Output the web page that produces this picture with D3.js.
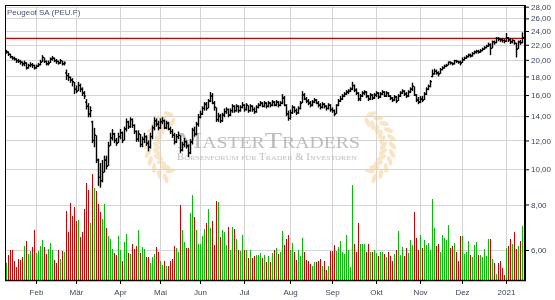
<!DOCTYPE html>
<html>
<head>
<meta charset="utf-8">
<script src="https://cdn.jsdelivr.net/npm/d3@7"></script>
<style>
  html, body { margin: 0; padding: 0; background: #fff; }
  svg { display: block; font-family: "Liberation Sans", Arial, sans-serif; }
</style>
</head>
<body>
<svg id="chart"></svg>
<script>
// Chart data
const title = "Peugeot SA (PEU.F)";
const monthLabels = ["", "Feb", "Mär", "Apr", "Mai", "Jun", "Jul", "Aug", "Sep", "Okt", "Nov", "Dez", "2021"];
const barsPerMonth = [15, 20, 22, 20, 20, 22, 23, 21, 22, 22, 21, 22, 9];
const priceTicks = [6, 8, 10, 12, 14, 16, 18, 20, 22, 24, 26, 28];
const resistance = 22.9;

const close = [
  21.0, 20.7, 20.4, 20.2, 20.1, 19.9, 19.8, 19.7, 19.5, 19.6, 19.0, 19.3, 19.4, 19.3, 19.0,
  19.2, 19.4, 19.7, 20.3, 19.8, 19.5, 19.6, 20.1, 20.2, 19.9, 19.8, 19.6, 19.9, 19.5, 19.6, 18.1, 17.9, 17.6, 17.4, 16.6,
  16.4, 17.0, 16.6, 16.2, 15.9, 14.9, 14.2, 14.5, 12.0, 12.4, 10.6, 9.5, 9.3, 9.8, 10.6, 10.2, 11.6, 12.2, 12.5, 12.0, 11.8, 12.3,
  12.6, 12.0, 12.9, 13.5, 13.1, 13.7, 13.2, 12.7, 12.1, 12.5, 11.7, 12.1, 12.3, 11.8, 11.5, 12.3, 13.0, 13.6, 13.3, 13.0,
  13.5, 13.6, 13.0, 13.4, 12.9, 12.7, 12.4, 11.9, 12.3, 12.4, 11.3, 11.7, 11.9, 11.6, 11.1, 11.9, 12.8, 12.5, 13.3, 13.9,
  14.2, 14.7, 15.1, 14.7, 15.4, 15.9, 15.2, 14.8, 13.7, 14.0, 13.6, 14.1, 14.4, 14.6, 14.1, 14.5, 14.9, 14.5, 14.9, 14.5, 14.8, 15.0,
  14.6, 15.0, 14.5, 14.9, 14.6, 14.4, 14.8, 15.0, 15.2, 14.9, 15.2, 14.9, 15.2, 15.0, 15.3, 15.0, 15.3, 15.0, 15.2, 15.7, 15.0, 14.2, 13.8,
  14.3, 14.8, 14.5, 14.3, 14.7, 15.2, 16.0, 15.6, 15.4, 15.2, 15.0, 15.3, 15.5, 15.2, 15.0, 14.8, 15.1, 14.9, 14.7, 15.0, 14.6,
  14.5, 14.2, 15.0, 15.4, 15.6, 15.9, 16.1, 16.3, 16.4, 16.6, 17.0, 16.5, 16.2, 15.6, 15.9, 16.2, 16.3, 15.9, 15.6, 16.0, 15.7, 16.0,
  16.2, 15.8, 16.1, 16.3, 15.9, 16.2, 15.9, 15.7, 15.5, 15.8, 15.4, 15.9, 16.2, 16.4, 16.1, 15.9, 16.3, 16.6, 16.9, 16.0, 15.5, 15.3,
  15.6, 15.5, 16.1, 16.6, 16.9, 17.4, 18.3, 18.6, 18.4, 18.3, 18.8, 19.0, 19.2, 19.3, 19.7, 19.6, 19.5, 19.9, 19.8, 19.7, 19.6,
  20.0, 20.2, 20.4, 20.6, 20.5, 20.8, 21.0, 21.1, 21.0, 21.2, 21.4, 21.6, 21.8, 22.0, 21.5, 22.4, 22.3, 22.9, 22.8, 22.7, 22.6, 22.5,
  23.0, 22.7, 22.4, 22.6, 22.2, 21.4, 22.4, 22.3, 23.0
];

const high = [
  21.3, 21.1, 20.8, 20.5, 20.4, 20.2, 20.1, 20.0, 19.8, 19.9, 19.7, 19.5, 19.7, 19.6, 19.4,
  19.4, 19.6, 20.0, 20.6, 20.3, 19.9, 19.9, 20.3, 20.5, 20.3, 20.1, 19.9, 20.1, 19.9, 19.8, 18.8, 18.4, 18.0, 17.8, 17.3,
  17.0, 17.4, 17.2, 16.8, 16.4, 15.6, 15.2, 14.9, 13.6, 13.0, 12.3, 10.7, 10.4, 10.6, 10.9, 10.9, 11.9, 12.6, 12.9, 12.6, 12.2, 12.6,
  12.9, 12.7, 13.1, 13.8, 13.6, 13.9, 13.8, 13.3, 12.8, 12.8, 12.5, 12.3, 12.6, 12.4, 12.0, 12.6, 13.2, 13.9, 13.8, 13.6,
  13.8, 13.9, 13.7, 13.6, 13.5, 13.1, 12.9, 12.6, 12.5, 12.7, 12.4, 11.9, 12.2, 12.0, 11.7, 12.1, 13.0, 13.1, 13.5, 14.2,
  14.5, 14.9, 15.3, 15.3, 15.6, 16.3, 16.2, 15.4, 14.7, 14.3, 14.2, 14.3, 14.7, 14.8, 14.7, 14.7, 15.1, 15.0, 15.1, 15.0, 15.0, 15.3,
  15.1, 15.2, 15.0, 15.1, 15.0, 14.8, 15.0, 15.2, 15.4, 15.3, 15.4, 15.3, 15.4, 15.3, 15.5, 15.4, 15.5, 15.4, 15.4, 16.1, 15.9, 15.1, 14.5,
  14.6, 15.0, 14.9, 14.7, 14.9, 15.4, 16.4, 16.2, 15.8, 15.6, 15.4, 15.5, 15.7, 15.6, 15.4, 15.2, 15.3, 15.2, 15.0, 15.2, 15.1,
  14.8, 14.6, 15.1, 15.6, 15.9, 16.1, 16.3, 16.5, 16.6, 16.8, 17.4, 17.1, 16.7, 16.3, 16.1, 16.4, 16.5, 16.4, 16.0, 16.2, 16.1, 16.2,
  16.4, 16.3, 16.3, 16.5, 16.4, 16.4, 16.3, 16.0, 15.8, 16.0, 15.9, 16.1, 16.4, 16.6, 16.5, 16.3, 16.5, 16.8, 17.3, 16.8, 16.1, 15.8,
  15.9, 15.9, 16.3, 16.8, 17.1, 17.6, 18.8, 18.9, 18.8, 18.6, 19.0, 19.2, 19.4, 19.5, 19.8, 19.8, 19.7, 20.0, 20.0, 19.9, 19.9,
  20.3, 20.4, 20.6, 20.8, 20.8, 21.0, 21.2, 21.3, 21.3, 21.4, 21.6, 21.8, 22.0, 22.3, 22.2, 22.6, 22.6, 23.1, 23.1, 22.9, 22.9, 22.8,
  23.7, 23.1, 22.9, 22.8, 22.7, 22.3, 22.6, 22.7, 23.8
];

const low = [
  20.8, 20.5, 20.2, 20.0, 19.9, 19.6, 19.6, 19.4, 19.2, 19.2, 18.8, 18.9, 19.1, 19.0, 18.8,
  18.9, 19.1, 19.3, 19.8, 19.6, 19.3, 19.3, 19.6, 19.9, 19.7, 19.5, 19.4, 19.5, 19.3, 19.3, 17.6, 17.5, 17.3, 16.9, 16.1,
  16.2, 16.5, 16.3, 15.9, 15.6, 14.6, 13.9, 13.9, 11.8, 11.5, 10.4, 9.0, 8.9, 9.2, 10.1, 10.0, 10.8, 11.7, 12.0, 11.8, 11.6, 11.9,
  12.1, 11.8, 12.0, 12.7, 12.9, 13.0, 13.0, 12.5, 11.9, 11.9, 11.5, 11.5, 11.8, 11.6, 11.2, 11.4, 12.1, 12.8, 13.1, 12.8,
  12.9, 13.3, 12.9, 12.9, 12.8, 12.5, 12.2, 11.7, 11.8, 12.1, 11.1, 11.2, 11.5, 11.4, 10.8, 11.0, 11.7, 12.3, 12.4, 13.1,
  13.8, 14.1, 14.5, 14.5, 14.7, 15.3, 15.1, 14.5, 13.5, 13.5, 13.4, 13.5, 13.9, 14.2, 13.9, 14.0, 14.3, 14.3, 14.4, 14.3, 14.4, 14.7,
  14.4, 14.5, 14.3, 14.4, 14.4, 14.2, 14.3, 14.7, 14.9, 14.8, 14.8, 14.7, 14.8, 14.8, 14.9, 14.9, 14.9, 14.8, 14.9, 15.1, 14.9, 14.0, 13.6,
  13.7, 14.2, 14.3, 14.1, 14.2, 14.6, 15.2, 15.5, 15.2, 15.0, 14.8, 14.9, 15.2, 15.1, 14.8, 14.6, 14.7, 14.7, 14.5, 14.6, 14.4,
  14.3, 14.0, 14.2, 14.9, 15.3, 15.5, 15.8, 16.0, 16.1, 16.3, 16.5, 16.3, 16.0, 15.4, 15.4, 15.8, 16.0, 15.7, 15.4, 15.5, 15.5, 15.6,
  15.8, 15.6, 15.7, 16.0, 15.8, 15.8, 15.8, 15.5, 15.3, 15.4, 15.2, 15.4, 15.8, 16.1, 15.9, 15.7, 15.8, 16.2, 16.4, 15.9, 15.3, 15.1,
  15.2, 15.3, 15.5, 16.0, 16.5, 16.8, 17.9, 18.2, 18.2, 18.0, 18.3, 18.7, 18.9, 19.1, 19.3, 19.4, 19.3, 19.4, 19.6, 19.5, 19.3,
  19.7, 19.9, 20.1, 20.3, 20.3, 20.4, 20.7, 20.8, 20.8, 20.9, 21.1, 21.3, 21.5, 21.7, 20.6, 21.6, 22.0, 22.2, 22.5, 22.4, 22.3, 22.2,
  22.4, 22.4, 22.1, 22.2, 22.0, 20.3, 21.5, 22.0, 22.2
];

// opening prices on gap days (other days open at the previous close)
const gapOpen = { 30: 18.4, 40: 15.3, 43: 13.5, 213: 18.0 };

// volume in thousand shares
const volume = [
  170, 250, 300, 300, 190, 130, 210, 200, 230, 340, 390, 260, 290, 330, 500,
  270, 290, 340, 400, 330, 260, 310, 370, 300, 200, 170, 300, 210, 290, 280, 690, 480, 770, 640, 730,
  590, 600, 430, 480, 710, 970, 900, 570, 1060, 920, 890, 760, 680, 610, 760, 520, 440, 410, 310, 270, 250, 440,
  300, 190, 380, 460, 270, 260, 360, 310, 340, 500, 270, 330, 310, 230, 230, 170, 230, 260, 330, 280,
  190, 150, 190, 140, 140, 190, 210, 340, 320, 280, 750, 500, 380, 320, 320, 670, 850, 630, 500, 360,
  360, 440, 510, 570, 710, 520, 590, 350, 790, 780, 430, 500, 480, 350, 530, 300, 530, 510, 410, 300, 290, 450,
  300, 300, 220, 300, 220, 240, 250, 250, 270, 220, 250, 180, 240, 180, 270, 300, 320, 260, 280, 490, 350, 410, 450,
  300, 370, 280, 200, 300, 240, 420, 280, 200, 190, 160, 140, 180, 180, 190, 210, 140, 190, 100, 140, 290,
  290, 350, 290, 330, 390, 280, 260, 450, 300, 130, 950, 360, 280, 570, 360, 360, 360, 280, 360, 280, 280, 300,
  270, 240, 280, 280, 260, 230, 280, 240, 190, 260, 300, 490, 250, 330, 240, 320, 270, 400, 350, 680, 420, 300,
  450, 320, 400, 350, 370, 300, 810, 520, 340, 360, 280, 450, 420, 400, 550, 320, 340, 370, 280, 190, 440,
  440, 260, 280, 390, 250, 230, 350, 380, 250, 250, 230, 310, 240, 410, 410, 210, 170, 60, 170, 190, 120, 50,
  320, 340, 410, 360, 480, 310, 340, 390, 540
];

const W = 555, H = 300;
const plot = { left: 5, top: 5, right: 525, bottom: 280 };

const svg = d3.select("#chart").attr("width", W).attr("height", H);

// Scales
const n = close.length;
const x = d3.scaleLinear().domain([0, n - 1]).range([6, 6 + 2 * (n - 1)]);
const y = d3.scaleLog().domain([4.96, 28.3]).range([plot.bottom, plot.top]);
const yVol = d3.scaleLinear().domain([0, 1100]).range([plot.bottom, 170]);

const bars = close.map((c, i) => {
  const prev = i === 0 ? c : close[i - 1];
  const o = gapOpen[i] !== undefined ? gapOpen[i] : prev;
  return { i, o, c, up: c >= prev, h: Math.max(high[i], o, c), l: Math.min(low[i], o, c), v: volume[i] };
});

// Month starts
const monthStarts = [];
let acc = 0;
barsPerMonth.forEach((b, k) => { monthStarts.push({ idx: acc, label: monthLabels[k] }); acc += b; });
const monthTicks = monthStarts.filter(d => d.label !== "");

// Grid
const grid = svg.append("g").attr("stroke", "#d4d4d4").attr("stroke-width", 1);
grid.selectAll("line.h").data(priceTicks).enter().append("line")
  .attr("x1", plot.left).attr("x2", plot.right)
  .attr("y1", d => Math.round(y(d)) + 0.5).attr("y2", d => Math.round(y(d)) + 0.5);
grid.selectAll("line.v").data(monthTicks).enter().append("line")
  .attr("x1", d => Math.round(x(d.idx)) + 0.5).attr("x2", d => Math.round(x(d.idx)) + 0.5)
  .attr("y1", plot.top).attr("y2", plot.bottom);

// Watermark (laurel + name)
const wreath = svg.append("g").attr("opacity", 0.55);
function branch(cx, cy, r, a0, a1, flip) {
  const steps = 10;
  for (let k = 0; k <= steps; k++) {
    const a = (a0 + (a1 - a0) * k / steps) * Math.PI / 180;
    const px = cx + r * Math.cos(a), py = cy + r * Math.sin(a);
    const tang = Math.atan2(Math.cos(a), -Math.sin(a)) * 180 / Math.PI;
    [-1, 1].forEach(s => {
      const lx = px + 4.5 * s * Math.cos(a), ly = py + 4.5 * s * Math.sin(a);
      wreath.append("ellipse")
        .attr("cx", lx).attr("cy", ly).attr("rx", 5).attr("ry", 2.2)
        .attr("transform", `rotate(${tang + s * 40 * flip},${lx},${ly})`)
        .attr("fill", "#f3cf98");
    });
  }
}
branch(184, 147, 32, 120, 245, 1);
branch(356, 147, 32, 60, -65, -1);

const wm = svg.append("g").attr("opacity", 0.75);
wm.append("text")
  .attr("x", 177).attr("y", 147.5)
  .attr("textLength", 183).attr("lengthAdjust", "spacingAndGlyphs")
  .style("font-family", "'Liberation Serif', 'DejaVu Serif', serif")
  .style("font-size", "23px").style("font-variant", "small-caps")
  .attr("fill", "#a8a8a8")
  .text("MasterTraders");
wm.append("text")
  .attr("x", 177).attr("y", 160)
  .attr("textLength", 180).attr("lengthAdjust", "spacingAndGlyphs")
  .style("font-family", "'Liberation Serif', 'DejaVu Serif', serif")
  .style("font-size", "9.5px").style("font-variant", "small-caps")
  .attr("fill", "#a8a8a8")
  .text("Börsenforum für Trader & Investoren");

// Volume bars
svg.append("g").selectAll("rect").data(bars).enter().append("rect")
  .attr("x", d => Math.round(x(d.i)))
  .attr("y", d => Math.round(yVol(d.v)))
  .attr("width", 1)
  .attr("height", d => plot.bottom - Math.round(yVol(d.v)))
  .attr("fill", d => d.up ? "#00c000" : "#d00000");

// Resistance line
svg.append("line")
  .attr("x1", plot.left).attr("x2", plot.right)
  .attr("y1", y(resistance)).attr("y2", y(resistance))
  .attr("stroke", "#cc0000").attr("stroke-width", 1.3);

// OHLC bars
const ohlc = svg.append("g").attr("fill", "#000");
bars.forEach(d => {
  const cx = Math.round(x(d.i));
  const yh = y(d.h), yl = y(d.l);
  ohlc.append("rect").attr("x", cx - 0.2).attr("y", yh).attr("width", 1.4).attr("height", Math.max(1, yl - yh));
  ohlc.append("rect").attr("x", cx - 1).attr("y", y(d.o) - 0.6).attr("width", 1).attr("height", 1.2);
  ohlc.append("rect").attr("x", cx + 1).attr("y", y(d.c) - 0.6).attr("width", 1).attr("height", 1.2);
});

// Frame
const frame = svg.append("g").attr("stroke", "#000").attr("shape-rendering", "crispEdges");
frame.append("line").attr("x1", plot.left).attr("x2", plot.right).attr("y1", plot.top + 0.5).attr("y2", plot.top + 0.5);
frame.append("line").attr("x1", plot.left + 0.5).attr("x2", plot.left + 0.5).attr("y1", plot.top).attr("y2", plot.bottom);

// Right axis
const fmt = d => d.toFixed(2).replace(".", ",");
const yAxis = svg.append("g")
  .attr("transform", `translate(${plot.right},0)`)
  .call(d3.axisRight(y).tickValues(priceTicks).tickFormat(fmt).tickSize(4).tickPadding(2));
yAxis.select(".domain").attr("stroke-width", 2).attr("d", `M0,${plot.top}V${plot.bottom + 1}`);
yAxis.selectAll(".tick line").attr("stroke", "#000");
yAxis.selectAll("text").attr("fill", "#3c4660").style("font-size", "8px")
  .style("font-family", "'Liberation Sans', Arial, sans-serif");

// Bottom axis
const xAxis = svg.append("g").attr("transform", `translate(0,${plot.bottom})`);
xAxis.append("line").attr("x1", plot.left).attr("x2", plot.right + 1).attr("y1", 0.5).attr("y2", 0.5)
  .attr("stroke", "#000").attr("stroke-width", 1.5);
const mt = xAxis.selectAll("g.m").data(monthTicks).enter().append("g")
  .attr("transform", d => `translate(${Math.round(x(d.idx)) + 0.5},0)`);
mt.append("line").attr("y1", 0).attr("y2", 4).attr("stroke", "#000");
mt.append("text").attr("y", 14.5).attr("text-anchor", "middle")
  .attr("fill", "#3c4660").style("font-size", "8px").text(d => d.label);

// Title
svg.append("text").attr("x", 7).attr("y", 15)
  .attr("fill", "#4a5470").style("font-size", "8px").text(title);
</script>
</body>
</html>
